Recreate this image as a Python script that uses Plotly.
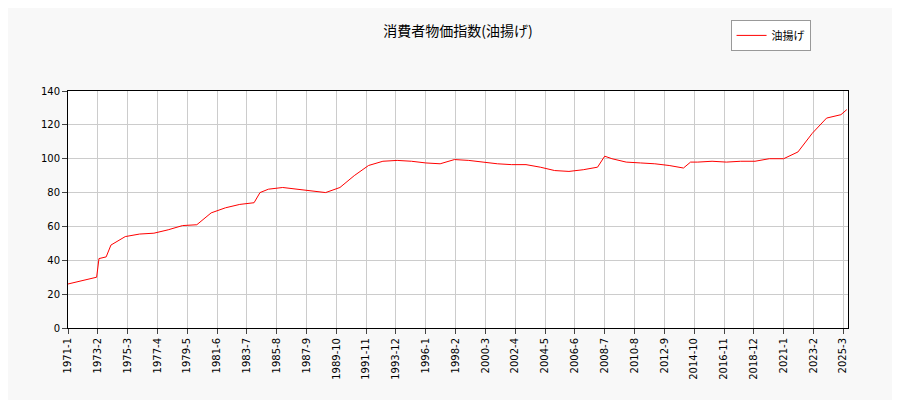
import plotly.graph_objects as go
import pandas as pd

dates = ["1971-01", "1972-01", "1973-01", "1973-03", "1973-09", "1974-01", "1975-01", "1976-01",
         "1977-01", "1978-01", "1979-01", "1980-01", "1981-01", "1982-01", "1983-01", "1984-01",
         "1984-06", "1985-01", "1986-01", "1987-01", "1988-01", "1989-01", "1990-01", "1991-01",
         "1992-01", "1993-01", "1994-01", "1995-01", "1996-01", "1997-01", "1998-01", "1999-01",
         "2000-01", "2001-01", "2002-01", "2003-01", "2004-01", "2005-01", "2006-01", "2007-01",
         "2008-01", "2008-07", "2009-01", "2010-01", "2011-01", "2012-01", "2013-01", "2014-01",
         "2014-07", "2015-01", "2016-01", "2017-01", "2018-01", "2019-01", "2020-01", "2021-01",
         "2022-01", "2023-01", "2024-01", "2025-01", "2025-06"]
values = [26, 28, 30, 41, 42, 49, 54, 55.5,
          56, 58, 60.5, 61, 68, 71, 73, 74,
          80, 82, 83, 82, 81, 80, 83, 90,
          96, 98.5, 99, 98.5, 97.5, 97, 99.5, 99,
          98, 97, 96.5, 96.5, 95, 93, 92.5, 93.5,
          95, 101.5, 100, 98, 97.5, 97, 96, 94.5,
          98, 98, 98.5, 98, 98.5, 98.5, 100, 100,
          104, 115, 124, 126, 129]

x = pd.to_datetime(dates)
tick_dates = pd.date_range("1971-01-01", "2025-06-01", freq="25MS")
tick_text = [f"{d.year}-{d.month}" for d in tick_dates]

fig = go.Figure(go.Scatter(x=x, y=values, mode="lines", name="油揚げ",
                           line=dict(color="red", width=1)))
fig.update_layout(
    width=900, height=400,
    paper_bgcolor="#f8f8f8", plot_bgcolor="white",
    font=dict(family="DejaVu Sans", size=10, color="black"),
    title=dict(text="消費者物価指数(油揚げ)", x=0.5, y=0.955,
               font=dict(family="Noto Sans CJK JP", size=14)),
    margin=dict(l=60, r=60, t=80, b=80),
    showlegend=True,
    legend=dict(x=0.952, y=1.3, xanchor="right", yanchor="top", bgcolor="white",
                bordercolor="#999", borderwidth=1,
                font=dict(family="Noto Sans CJK JP", size=11)),
)
fig.update_xaxes(range=[pd.Timestamp("1971-01-01"), pd.Timestamp("2025-07-01")],
                 tickvals=tick_dates, ticktext=tick_text, tickangle=-90, automargin=False,
                 showgrid=True, gridcolor="#cccccc", linecolor="black", showline=True,
                 ticks="outside", mirror=True)
fig.update_yaxes(range=[0, 140], dtick=20, showgrid=True, gridcolor="#cccccc", automargin=False,
                 linecolor="black", showline=True, ticks="outside", mirror=True)
fig.write_html("out.html")
